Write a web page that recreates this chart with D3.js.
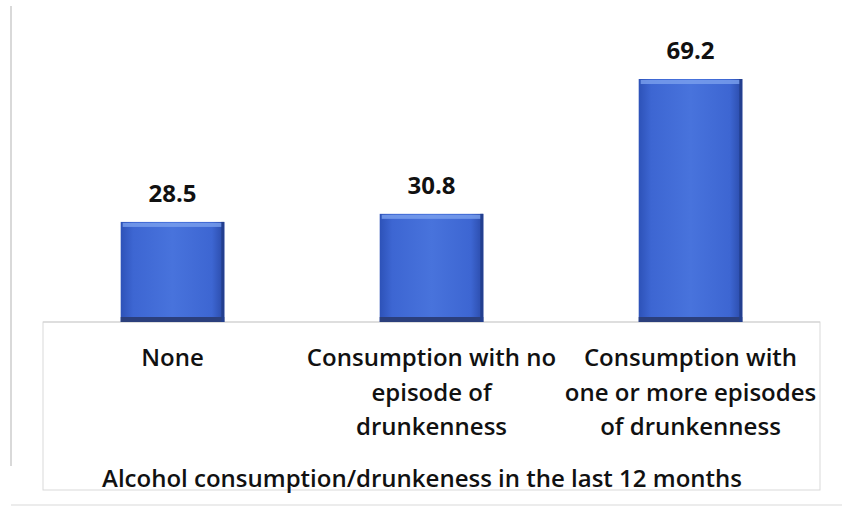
<!DOCTYPE html>
<meta charset="utf-8">
<style>
body { margin: 0; background: #fff; }
text { font-family: "Open Sans", "Noto Sans", sans-serif; fill: #111; }
.frame { stroke: #d9d9d9; fill: none; }
</style>
<body>
<script src="https://d3js.org/d3.v7.min.js"></script>
<script>

// data
var categories = ["None", "Consumption with no episode of drunkenness", "Consumption with one or more episodes of drunkenness"];
var labelLines = [["None"], ["Consumption with no", "episode of", "drunkenness"], ["Consumption with", "one or more episodes", "of drunkenness"]];
var values = [28.5, 30.8, 69.2];
var axisTitle = "Alcohol consumption/drunkeness in the last 12 months";

var width = 842, height = 509;
var plot = {left: 43, right: 820, top: 79, bottom: 322};

var svg = d3.select("body").append("svg")
    .attr("width", width)
    .attr("height", height);

// gradient for bars
var defs = svg.append("defs");
var grad = defs.append("linearGradient").attr("id", "barGrad")
    .attr("x1", "0%").attr("x2", "100%").attr("y1", "0%").attr("y2", "0%");
grad.append("stop").attr("offset", "0%").attr("stop-color", "#2d52b8");
grad.append("stop").attr("offset", "12%").attr("stop-color", "#3d66d2");
grad.append("stop").attr("offset", "50%").attr("stop-color", "#4873dc");
grad.append("stop").attr("offset", "88%").attr("stop-color", "#3d66d2");
grad.append("stop").attr("offset", "100%").attr("stop-color", "#2a4aa8");

// frame
svg.append("line").attr("class", "frame")
    .attr("x1", 11).attr("x2", 11).attr("y1", 6).attr("y2", 466)
    .attr("stroke-width", 2);
svg.append("line").attr("class", "frame")
    .attr("x1", 11).attr("x2", 842).attr("y1", 505).attr("y2", 505);
svg.append("rect").attr("class", "frame")
    .attr("x", plot.left).attr("y", plot.bottom)
    .attr("width", plot.right - plot.left).attr("height", 168)
    .attr("stroke", "#ececec");

var x = d3.scaleBand()
    .domain(categories)
    .range([plot.left, plot.right])
    .paddingInner(0.6)
    .paddingOuter(0.3);

var y = d3.scaleLinear()
    .domain([0, 69.2])
    .range([plot.bottom, plot.top]);

// baseline
svg.append("line")
    .attr("x1", plot.left).attr("x2", plot.right)
    .attr("y1", plot.bottom).attr("y2", plot.bottom)
    .attr("stroke", "#d0d0d0");

var bars = svg.selectAll(".bar").data(values)
  .enter().append("g")
    .attr("class", "bar");

bars.append("rect")
    .attr("x", (d, i) => x(categories[i]))
    .attr("y", d => y(d))
    .attr("width", x.bandwidth())
    .attr("height", d => y(0) - y(d))
    .attr("fill", "url(#barGrad)");

// top highlight
bars.append("rect")
    .attr("x", (d, i) => x(categories[i]) + 2)
    .attr("y", d => y(d) + 1)
    .attr("width", x.bandwidth() - 4)
    .attr("height", 4)
    .attr("fill", "#7ba0ee")
    .attr("opacity", 0.8);

// bottom shadow
bars.append("rect")
    .attr("x", (d, i) => x(categories[i]))
    .attr("y", y(0) - 5)
    .attr("width", x.bandwidth())
    .attr("height", 5)
    .attr("fill", "#2b3f7c");

// right edge shade
bars.append("rect")
    .attr("x", (d, i) => x(categories[i]) + x.bandwidth() - 3)
    .attr("y", d => y(d))
    .attr("width", 3)
    .attr("height", d => y(0) - y(d))
    .attr("fill", "#233f8f");

// value labels
svg.selectAll(".val").data(values)
  .enter().append("text")
    .attr("class", "val")
    .attr("x", (d, i) => x(categories[i]) + x.bandwidth() / 2)
    .attr("y", d => y(d) - 20)
    .attr("text-anchor", "middle")
    .attr("font-size", 24)
    .attr("font-weight", "bold")
    .text(d => d.toFixed(1));

// category labels
var cat = svg.selectAll(".cat").data(labelLines)
  .enter().append("text")
    .attr("class", "cat")
    .attr("text-anchor", "middle")
    .attr("font-size", 24)
    .attr("font-weight", 600)
    .attr("transform", (d, i) => "translate(" + (x(categories[i]) + x.bandwidth() / 2) + ",366)");

cat.selectAll("tspan").data(d => d)
  .enter().append("tspan")
    .attr("x", 0)
    .attr("y", (d, j) => j * 34.5)
    .text(d => d);

// axis title
svg.append("text")
    .attr("x", 422)
    .attr("y", 487)
    .attr("text-anchor", "middle")
    .attr("font-size", 24)
    .attr("font-weight", 600)
    .text(axisTitle);

</script>
</body>
